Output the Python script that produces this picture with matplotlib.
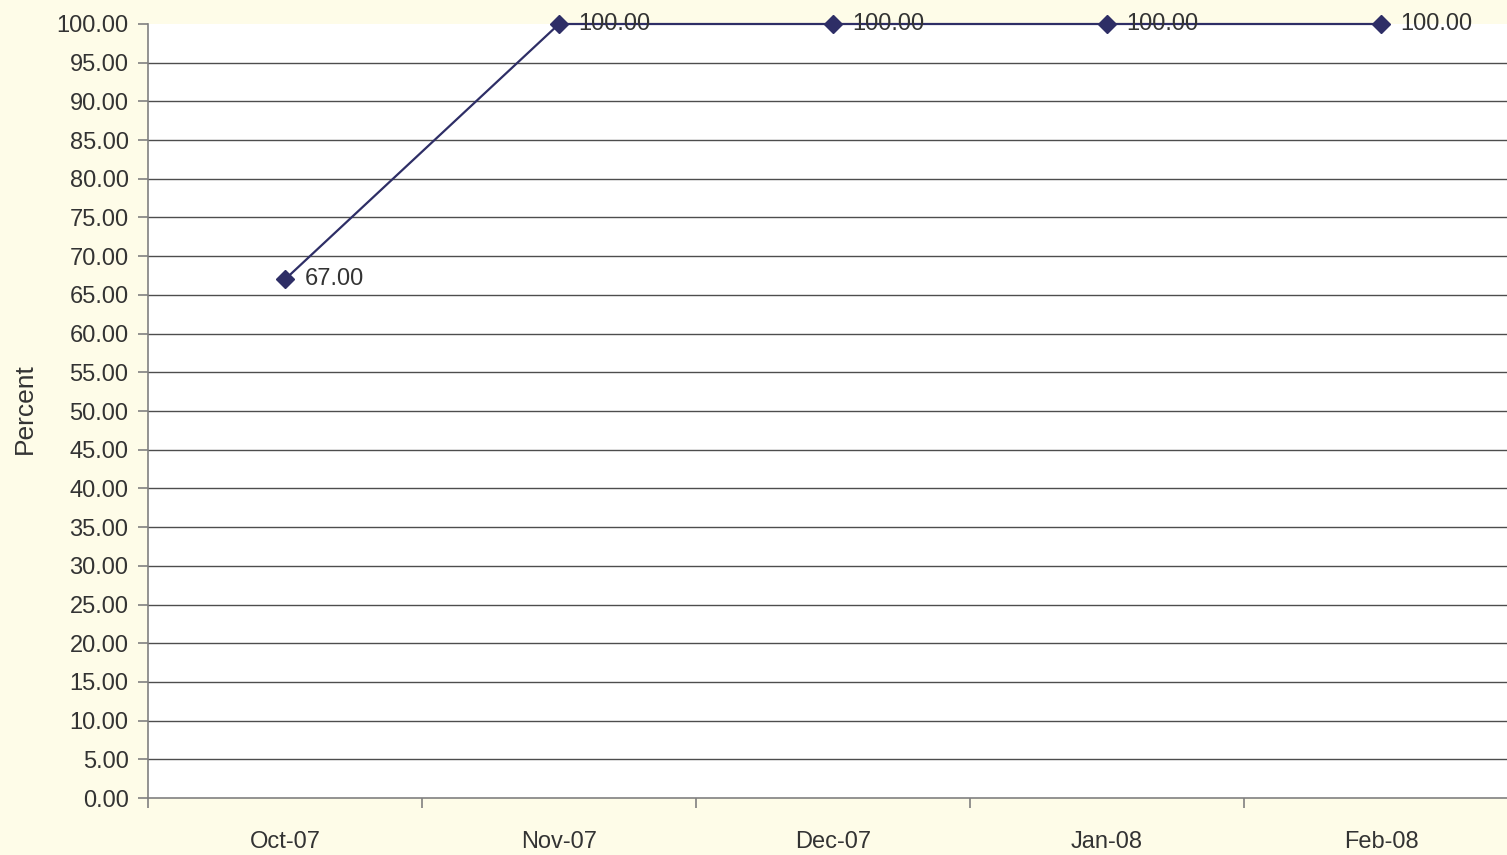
import matplotlib
matplotlib.use('Agg')
import matplotlib.pyplot as plt

months = ['Oct-07', 'Nov-07', 'Dec-07', 'Jan-08', 'Feb-08']
percent = [67.00, 100.00, 100.00, 100.00, 100.00]
y_ticks = list(range(0, 101, 5))

# no narrow Arial here, so plain Liberation Sans a bit smaller
plt.rcParams['font.family'] = ['Liberation Sans', 'DejaVu Sans']

fig = plt.figure(figsize=(15.07, 8.55), dpi=100)
fig.patch.set_facecolor('#fefce8')
ax = fig.add_axes([148 / 1507, 1 - 798 / 855, 1370 / 1507, (798 - 24) / 855])
ax.set_facecolor('white')

x = list(range(len(months)))
ax.plot(x, percent, color='#2e2e66', linewidth=1.6, marker='D', markersize=9,
        markerfacecolor='#2e2e66', markeredgecolor='#2e2e66', zorder=3, clip_on=False)

for xi, v in zip(x, percent):
    ax.annotate('%.2f' % v, (xi, v), xytext=(14, 0), textcoords='offset points',
                ha='left', va='center', fontsize=17, color='#333333', zorder=4)

ax.set_xlim(-0.5, len(months) - 0.5)
ax.set_ylim(0, 100)
ax.set_yticks(y_ticks)
ax.set_yticklabels(['%.2f' % t for t in y_ticks], fontsize=17, color='#333333')
for t in y_ticks[1:-1]:
    ax.axhline(t, color='#4d4d4d', linewidth=1.0, zorder=1)

ax.set_xticks(x)
ax.set_xticklabels(months, fontsize=17, color='#333333')
ax.set_xticks([i - 0.5 for i in range(len(months) + 1)], minor=True)
ax.tick_params(axis='x', which='major', length=0, pad=24)
ax.tick_params(axis='x', which='minor', length=7, color='#808080', width=1.2)
ax.tick_params(axis='y', length=7, color='#808080', width=1.2, pad=7)

for side in ['top', 'right']:
    ax.spines[side].set_visible(False)
for side in ['left', 'bottom']:
    ax.spines[side].set_color('#808080')
    ax.spines[side].set_linewidth(1.2)

fig.text(25 / 1507, 1 - 409 / 855, 'Percent', rotation=90, ha='center', va='center',
         fontsize=19, color='#333333')

fig.savefig('out.png', dpi=100, facecolor=fig.get_facecolor())
